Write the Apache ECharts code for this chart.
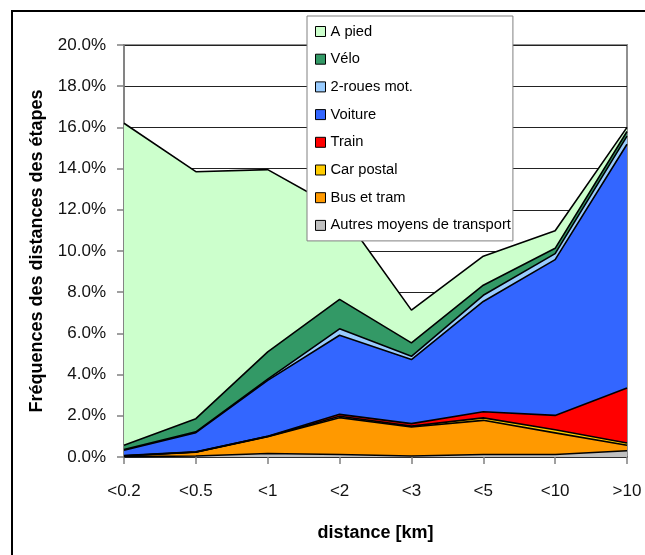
<!DOCTYPE html>
<html>
<head>
<meta charset="utf-8">
<script src="https://cdn.jsdelivr.net/npm/echarts@6/dist/echarts.min.js"></script>
<style>
html,body{margin:0;padding:0;background:#fff;}
#chart{width:645px;height:555px;}
</style>
</head>
<body>
<div id="chart"></div>
<script>
const categories = ['<0.2','<0.5','<1','<2','<3','<5','<10','>10'];
const autres   = [0.02, 0.05, 0.17, 0.12, 0.05, 0.12, 0.12, 0.30];
const busTram  = [0.03, 0.18, 0.81, 1.79, 1.41, 1.66, 1.05, 0.27];
const carPostal= [0.01, 0.01, 0.02, 0.07, 0.04, 0.12, 0.15, 0.11];
const train    = [0.01, 0.01, 0.01, 0.09, 0.12, 0.30, 0.70, 2.67];
const voiture  = [0.26, 0.93, 2.71, 3.84, 3.11, 5.35, 7.56, 11.83];
const roues2   = [0.03, 0.04, 0.06, 0.31, 0.16, 0.30, 0.29, 0.40];
const velo     = [0.21, 0.64, 1.32, 1.43, 0.65, 0.49, 0.26, 0.22];
const aPied    = [15.63, 11.99, 8.85, 4.35, 1.59, 1.41, 0.85, 0.20];
const yTicks   = [0, 2, 4, 6, 8, 10, 12, 14, 16, 18, 20];

const FONT = "'Liberation Sans', Arial, sans-serif";
const seriesDefs = [
  {name:'Autres moyens de transport', data:autres,    color:'#C0C0C0'},
  {name:'Bus et tram',                data:busTram,   color:'#FF9900'},
  {name:'Car postal',                 data:carPostal, color:'#FFCC00'},
  {name:'Train',                      data:train,     color:'#FF0000'},
  {name:'Voiture',                    data:voiture,   color:'#3366FF'},
  {name:'2-roues mot.',               data:roues2,    color:'#99CCFF'},
  {name:'Vélo',                       data:velo,      color:'#339966'},
  {name:'A pied',                     data:aPied,     color:'#CCFFCC'}
];

const chart = echarts.init(document.getElementById('chart'), null, {renderer:'canvas'});
chart.setOption({
  animation:false,
  backgroundColor:'#fff',
  textStyle:{fontFamily:FONT},
  graphic:[{
    type:'rect', z:100, silent:true,
    shape:{x:12, y:11, width:700, height:600},
    style:{fill:'none', stroke:'#000', lineWidth:2}
  }],
  grid:{left:124, top:45, width:503, height:412, show:true, borderColor:'#909090', borderWidth:2, backgroundColor:'transparent'},
  legend:{
    orient:'vertical', left:307, top:16,
    data:seriesDefs.map(s=>s.name).reverse(),
    icon:'rect', itemWidth:10, itemHeight:10, itemGap:12.7, itemTextGap:5,
    itemStyle:{borderColor:'#000', borderWidth:1},
    backgroundColor:'#fff', borderColor:'#808080', borderWidth:1,
    padding:[8,2,8,8],
    textStyle:{fontFamily:FONT, fontSize:14.7, lineHeight:15, color:'#000'}
  },
  xAxis:{
    type:'category', data:categories, boundaryGap:false,
    name:'distance [km]', nameLocation:'middle', nameGap:67,
    nameTextStyle:{fontFamily:FONT, fontSize:18, fontWeight:'bold', color:'#000'},
    axisLine:{lineStyle:{color:'#333', width:1.5}},
    axisTick:{show:true, length:7, lineStyle:{color:'#808080', width:1.5}},
    axisLabel:{fontFamily:FONT, fontSize:17, color:'#111', margin:26},
    splitLine:{show:false}
  },
  yAxis:{
    type:'value', min:yTicks[0], max:yTicks[yTicks.length-1], interval:yTicks[1]-yTicks[0],
    name:'Fréquences des distances des étapes', nameLocation:'middle', nameGap:78, nameRotate:90,
    nameTextStyle:{fontFamily:FONT, fontSize:18, fontWeight:'bold', color:'#000'},
    axisLine:{show:true, lineStyle:{color:'#808080', width:1.5}},
    axisTick:{show:true, length:7, lineStyle:{color:'#808080', width:1.5}},
    axisLabel:{fontFamily:FONT, fontSize:17, color:'#111', margin:18,
      formatter:v=>v.toFixed(1)+'%'},
    splitLine:{show:true, lineStyle:{color:'#222', width:1}}
  },
  series:seriesDefs.map(s=>({
    name:s.name, type:'line', stack:'total', data:s.data,
    symbol:'none', color:s.color,
    itemStyle:{color:s.color},
    lineStyle:{color:'#000', width:1.6},
    areaStyle:{color:s.color, opacity:1}
  }))
});
</script>
</body>
</html>
